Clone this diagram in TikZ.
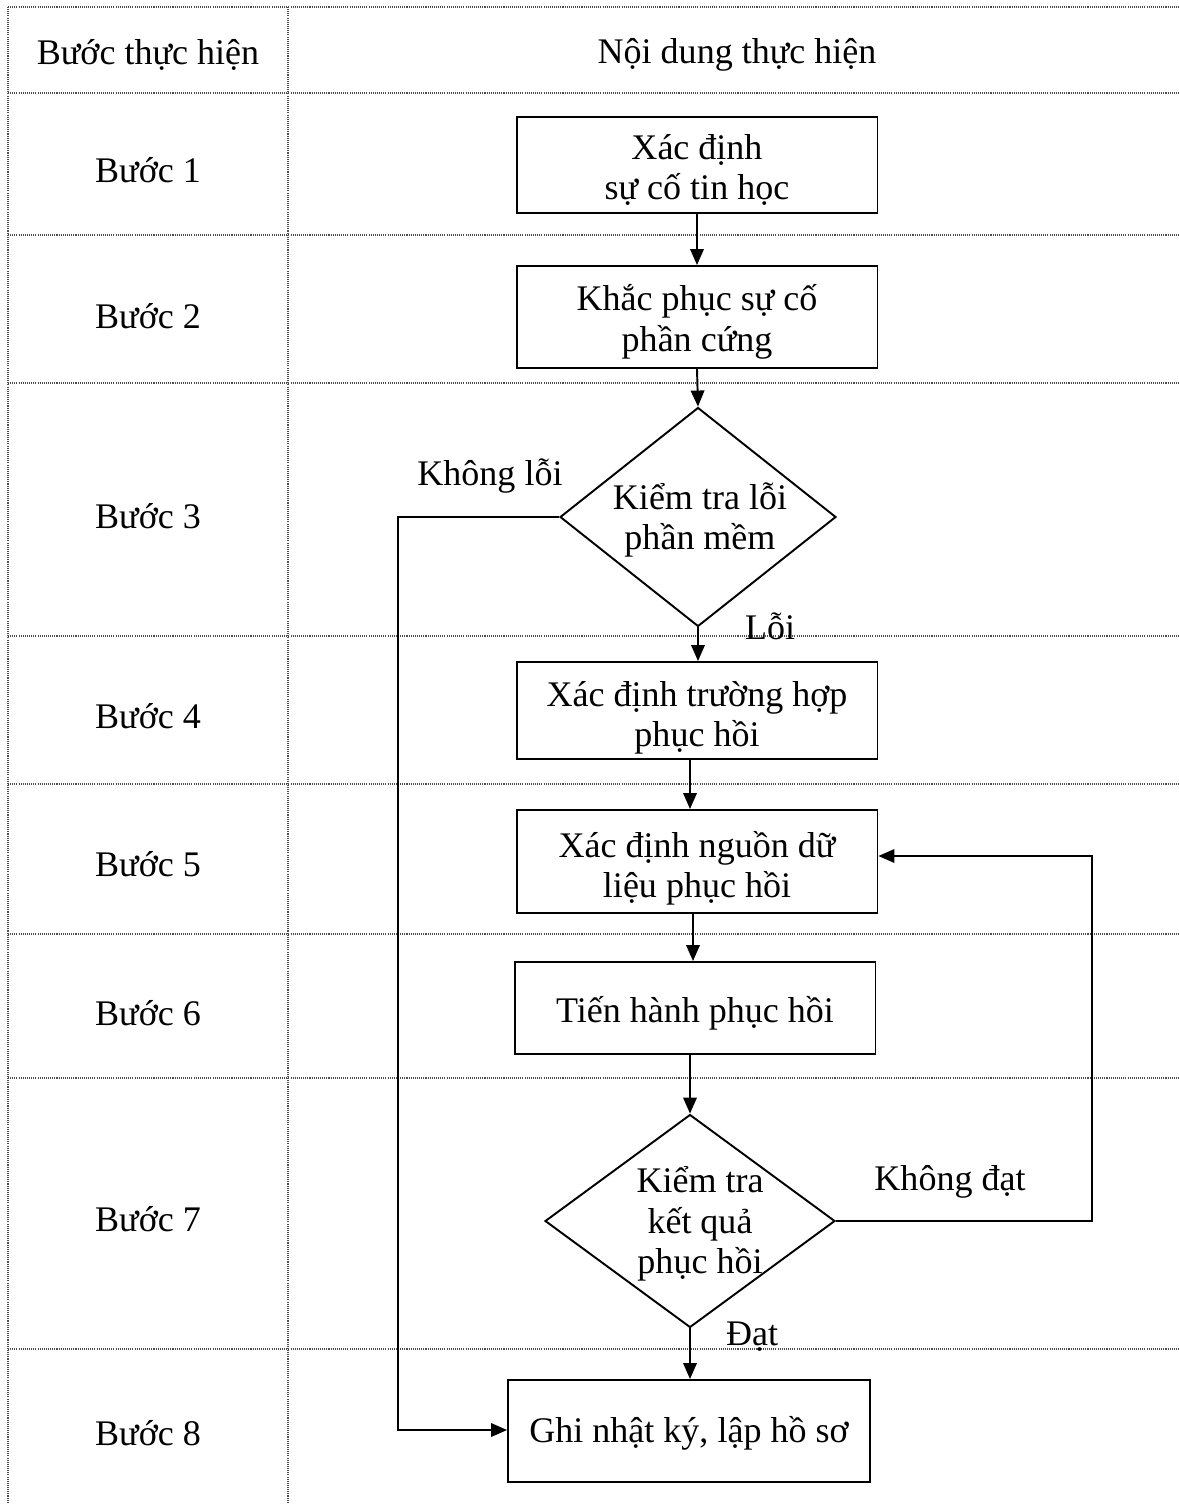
\documentclass[tikz,border=0pt]{standalone}
\usepackage{fontspec}
\setmainfont{Liberation Serif}
\usetikzlibrary{arrows.meta,shapes.geometric}
\begin{document}
\begin{tikzpicture}[x=0.02cm,y=-0.02cm,
  every node/.style={font=\fontsize{20.5}{23}\selectfont, align=center},
  grid/.style={line width=0.6pt, black!70, dash pattern=on 0.6pt off 0.6pt},
  box/.style={draw, line width=1.1pt, rectangle, inner sep=0pt, minimum width=7.22cm},
  dec/.style={draw, line width=1.1pt, diamond, inner sep=0pt},
  flow/.style={line width=1.1pt, -{Triangle[length=0.32cm,width=0.27cm]}},
  lbl/.style={inner sep=0pt}
]
\useasboundingbox (0,0) rectangle (1179,1504);
% table grid
\foreach \yy in {7,93,235,383,636,784,934,1078,1349}
  \draw[grid] (8,\yy) -- (1179,\yy);
\draw[grid] (8,7) -- (8,1504);
\draw[grid] (288,7) -- (288,1504);
% header and step labels
\node[lbl] (h1) at (148,55) {Bước thực hiện};
\node[lbl] (h2) at (737,55) {Nội dung thực hiện};
\node[lbl] (s1) at (148,170) {Bước 1};
\node[lbl] (s2) at (148,316) {Bước 2};
\node[lbl] (s3) at (148,516) {Bước 3};
\node[lbl] (s4) at (148,716) {Bước 4};
\node[lbl] (s5) at (148,864) {Bước 5};
\node[lbl] (s6) at (148,1013) {Bước 6};
\node[lbl] (s7) at (148,1219) {Bước 7};
\node[lbl] (s8) at (148,1433) {Bước 8};
% flowchart shapes
\node[box, minimum height=1.92cm] (b1) at (697,165) {};
\node[box, minimum height=2.04cm] (b2) at (697,317) {};
\node[dec, minimum width=5.52cm, minimum height=4.38cm] (d1) at (698,517) {};
\node[box, minimum height=1.94cm] (b4) at (697,710.5) {};
\node[box, minimum height=2.06cm] (b5) at (697,861.5) {};
\node[box, minimum height=1.84cm] (b6) at (695,1008) {};
\node[dec, minimum width=5.8cm, minimum height=4.26cm] (d2) at (690,1221) {};
\node[box, minimum width=7.24cm, minimum height=2.04cm] (b8) at (689,1431) {};
% texts in shapes
\node[lbl] (b1t) at (697,170) {Xác định\\sự cố tin học};
\node[lbl] (b2t) at (697,322) {Khắc phục sự cố\\phần cứng};
\node[lbl] (d1t) at (700,520) {Kiểm tra lỗi\\phần mềm};
\node[lbl] (b4t) at (697,718) {Xác định trường hợp\\phục hồi};
\node[lbl] (b5t) at (697,868) {Xác định nguồn dữ\\liệu phục hồi};
\node[lbl] (b6t) at (695,1013) {Tiến hành phục hồi};
\node[lbl] (d2t) at (700,1224) {Kiểm tra\\kết quả\\phục hồi};
\node[lbl] (b8t) at (689,1433) {Ghi nhật ký, lập hồ sơ};
% connector corners
\coordinate (c1) at (398,517);
\coordinate (c2) at (398,1430);
\coordinate (c3) at (1092,1221);
\coordinate (c4) at (1092,856);
% connectors
\draw[flow] (b1.south) -- (b2.north);
\draw[flow] (b2.south) -- (d1.north);
\draw[flow] (d1.south) -- (b4.north -| d1.south);
\draw[flow] (b4.south -| 690,0) -- (b5.north -| 690,0);
\draw[flow] (b5.south -| 693,0) -- (b6.north -| 693,0);
\draw[flow] (b6.south -| d2.north) -- (d2.north);
\draw[flow] (d2.south) -- (b8.north -| d2.south);
\draw[flow] (d1.west) -- (c1) -- (c2) -- (b8.west |- c2);
\draw[flow] (d2.east) -- (c3) -- (c4) -- (b5.east |- c4);
% branch labels
\node[lbl] (l1) at (490,476) {Không lỗi};
\node[lbl] (l2) at (770,626) {Lỗi};
\node[lbl] (l3) at (950,1182) {Không đạt};
\node[lbl] (l4) at (752,1337) {Đạt};
\end{tikzpicture}
\end{document}
